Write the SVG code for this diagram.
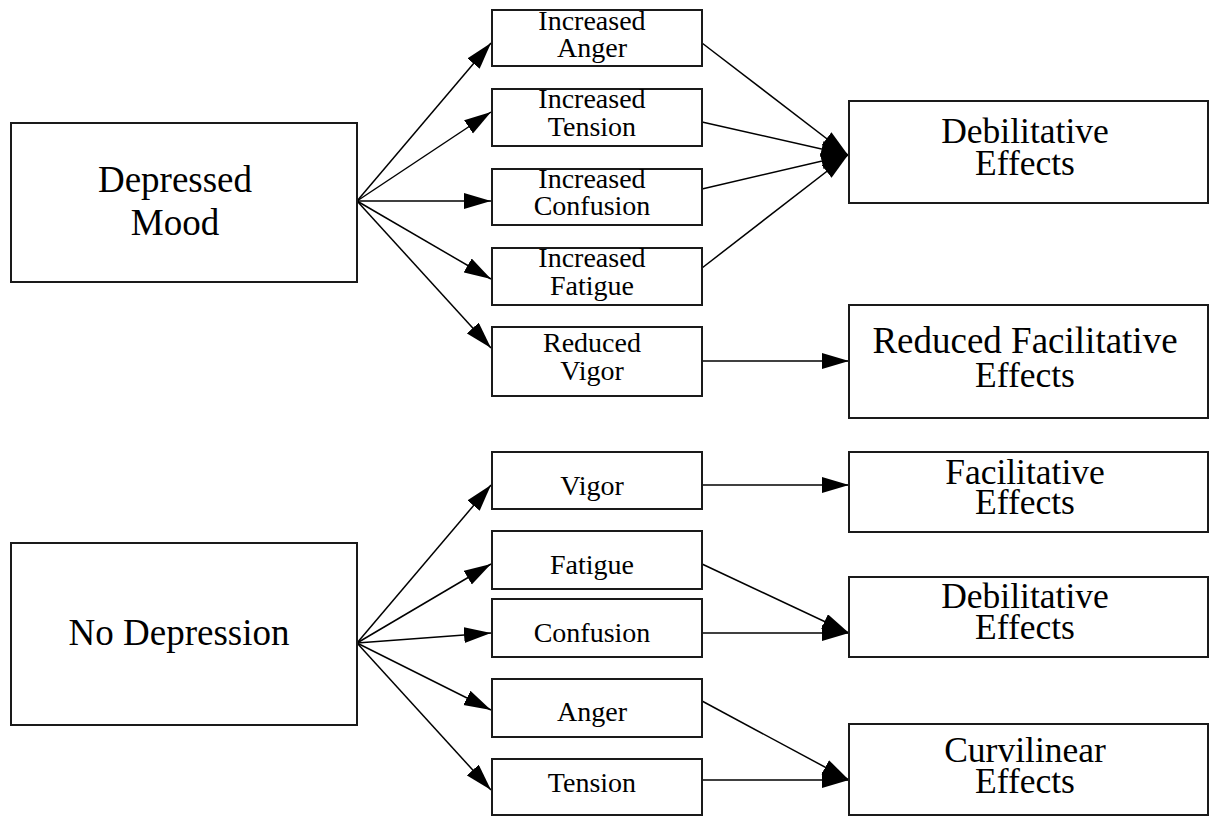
<svg xmlns="http://www.w3.org/2000/svg" width="1210" height="816" viewBox="0 0 1210 816">
<style>
.box{fill:#fff;stroke:#1a1a1a;stroke-width:2}
.big{font-family:"Liberation Serif","Times New Roman",serif;font-size:37px;fill:#000;text-anchor:middle}
.rt{font-family:"Liberation Serif","Times New Roman",serif;font-size:35.5px;fill:#000;text-anchor:middle}
.sm{font-family:"Liberation Serif","Times New Roman",serif;font-size:28px;fill:#000;text-anchor:middle}
.c{stroke:#000;stroke-width:1.5;fill:none;marker-end:url(#ah)}
</style>
<defs>
<marker id="ah" markerUnits="userSpaceOnUse" markerWidth="28" markerHeight="17" refX="27" refY="8" orient="auto" viewBox="0 0 28 17">
<path d="M0,0 L27,8 L0,16 z" fill="#000"/>
</marker>
</defs>
<rect width="1210" height="816" fill="#fff"/>
<g id="connectors">
<line class="c" x1="357" y1="201" x2="491" y2="43"/>
<line class="c" x1="357" y1="201" x2="491" y2="112"/>
<line class="c" x1="357" y1="201" x2="491" y2="201"/>
<line class="c" x1="357" y1="201" x2="491" y2="279"/>
<line class="c" x1="357" y1="201" x2="491" y2="348"/>
<line class="c" x1="702" y1="43" x2="848" y2="155"/>
<line class="c" x1="702" y1="122" x2="848" y2="155"/>
<line class="c" x1="702" y1="189" x2="848" y2="155"/>
<line class="c" x1="702" y1="268" x2="848" y2="155"/>
<line class="c" x1="702" y1="361" x2="849" y2="361"/>
<line class="c" x1="357" y1="643" x2="491" y2="485"/>
<line class="c" x1="357" y1="643" x2="491" y2="564"/>
<line class="c" x1="357" y1="643" x2="491" y2="633"/>
<line class="c" x1="357" y1="643" x2="491" y2="710"/>
<line class="c" x1="357" y1="643" x2="491" y2="790"/>
<line class="c" x1="702" y1="485" x2="849" y2="485"/>
<line class="c" x1="702" y1="564" x2="849" y2="633"/>
<line class="c" x1="702" y1="633" x2="849" y2="633"/>
<line class="c" x1="702" y1="701" x2="849" y2="780"/>
<line class="c" x1="702" y1="780" x2="849" y2="780"/>
</g>
<g id="depressed-mood"><rect class="box" x="11" y="123" width="346" height="159"/><text class="big" x="175" y="192">Depressed</text><text class="big" x="175" y="235">Mood</text></g>
<g id="increased-anger"><rect class="box" x="492" y="10" width="210" height="56"/><text class="sm" x="592" y="30">Increased</text><text class="sm" x="592" y="57">Anger</text></g>
<g id="increased-tension"><rect class="box" x="492" y="89" width="210" height="57"/><text class="sm" x="592" y="108">Increased</text><text class="sm" x="592" y="136">Tension</text></g>
<g id="increased-confusion"><rect class="box" x="492" y="169" width="210" height="56"/><text class="sm" x="592" y="188">Increased</text><text class="sm" x="592" y="215">Confusion</text></g>
<g id="increased-fatigue"><rect class="box" x="492" y="248" width="210" height="57"/><text class="sm" x="592" y="267">Increased</text><text class="sm" x="592" y="295">Fatigue</text></g>
<g id="reduced-vigor"><rect class="box" x="492" y="327" width="210" height="69"/><text class="sm" x="592" y="352">Reduced</text><text class="sm" x="592" y="380">Vigor</text></g>
<g id="debilitative-1"><rect class="box" x="849" y="101" width="359" height="102"/><text class="rt" x="1025" y="143">Debilitative</text><text class="rt" x="1025" y="175">Effects</text></g>
<g id="reduced-facilitative"><rect class="box" x="849" y="305" width="359" height="113"/><text class="big" x="1025" y="353">Reduced Facilitative</text><text class="rt" x="1025" y="387">Effects</text></g>
<g id="no-depression"><rect class="box" x="11" y="543" width="346" height="182"/><text class="big" x="179" y="645">No Depression</text></g>
<g id="vigor"><rect class="box" x="492" y="452" width="210" height="57"/><text class="sm" x="592" y="495">Vigor</text></g>
<g id="fatigue"><rect class="box" x="492" y="531" width="210" height="58"/><text class="sm" x="592" y="574">Fatigue</text></g>
<g id="confusion"><rect class="box" x="492" y="599" width="210" height="58"/><text class="sm" x="592" y="642">Confusion</text></g>
<g id="anger"><rect class="box" x="492" y="679" width="210" height="58"/><text class="sm" x="592" y="721">Anger</text></g>
<g id="tension"><rect class="box" x="492" y="759" width="210" height="56"/><text class="sm" x="592" y="792">Tension</text></g>
<g id="facilitative"><rect class="box" x="849" y="452" width="359" height="80"/><text class="rt" x="1025" y="484">Facilitative</text><text class="rt" x="1025" y="514">Effects</text></g>
<g id="debilitative-2"><rect class="box" x="849" y="577" width="359" height="80"/><text class="rt" x="1025" y="608">Debilitative</text><text class="rt" x="1025" y="639">Effects</text></g>
<g id="curvilinear"><rect class="box" x="849" y="724" width="359" height="91"/><text class="rt" x="1025" y="762">Curvilinear</text><text class="rt" x="1025" y="793">Effects</text></g>
</svg>
